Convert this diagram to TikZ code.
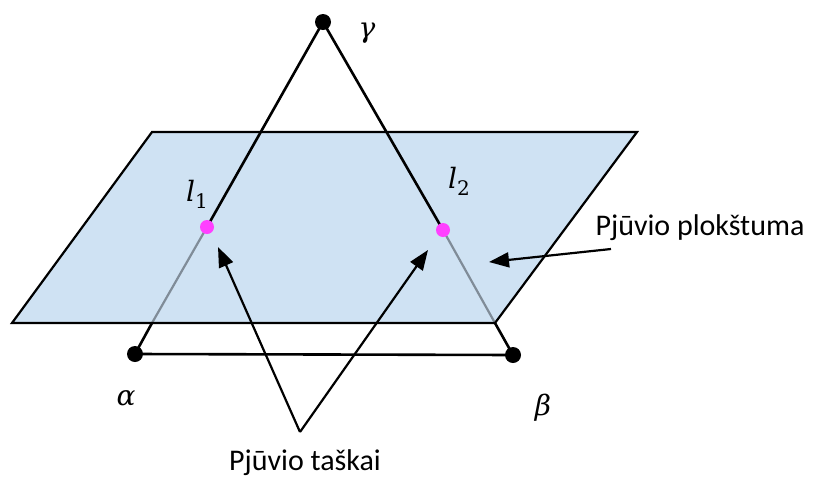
\documentclass[tikz,border=0pt]{standalone}
\usepackage{fontspec}
\setmainfont{Carlito}
\newfontfamily\mfont{DejaVu Serif}
\usetikzlibrary{arrows.meta}
\definecolor{planefill}{RGB}{207,226,243}
\definecolor{hiddenline}{RGB}{128,140,152}
\definecolor{cutdot}{RGB}{255,64,255}
\newcommand{\subl}[1]{{\itshape l}\raisebox{-7pt}{\fontsize{20}{21}\selectfont #1}}
\begin{document}
\begin{tikzpicture}[x=1pt,y=-1pt,
  edge/.style={line width=2.6pt,black},
  hid/.style={line width=2.2pt,hiddenline},
  vdot/.style={circle,fill=black,inner sep=0pt,minimum size=16pt},
  cdot/.style={circle,fill=cutdot,inner sep=0pt,minimum size=14pt},
  arr/.style={line width=2.2pt,-{Triangle[length=20pt,width=15pt]}},
  lbl/.style={font=\fontsize{30}{34}\selectfont},
  mlbl/.style={font=\mfont\fontsize{28}{32}\selectfont\itshape,inner sep=0pt}]
\useasboundingbox (0,0) rectangle (815,480);
% plane
\coordinate (Q1) at (152,132);
\coordinate (Q2) at (637,132);
\coordinate (Q3) at (495,323);
\coordinate (Q4) at (12,323);
\fill[planefill] (Q1) -- (Q2) -- (Q3) -- (Q4) -- cycle;
% points
\coordinate (G) at (323,22);
\coordinate (A) at (135,354);
\coordinate (B) at (513,355);
\coordinate (L1) at (207,227);
\coordinate (L2) at (443,230);
\coordinate (P1) at (152,323);
% lines
\draw[edge] (G) -- (L1);
\draw[edge] (G) -- (L2);
\draw[hid] (L1) -- (P1);
\draw[hid] (L2) -- (Q3);
\draw[line width=2.2pt] (Q1) -- (Q2) -- (Q3) -- (Q4) -- cycle;
\draw[edge] (P1) -- (A);
\draw[edge] (Q3) -- (B);
\draw[edge] (A) -- (B);
% dots
\node[vdot] (nG) at (G) {};
\node[vdot] (nA) at (A) {};
\node[vdot] (nB) at (B) {};
\node[cdot] (nL1) at (L1) {};
\node[cdot] (nL2) at (L2) {};
% labels
\node[mlbl] (tg) at (367,33) {γ};
\node[mlbl] (ta) at (126,398) {α};
\node[mlbl] (tb) at (543,408) {β};
\node[mlbl,font=\mfont\fontsize{28}{32}\selectfont] (tl1) at (197,194) {\subl{1}};
\node[mlbl,font=\mfont\fontsize{28}{32}\selectfont] (tl2) at (459,181) {\subl{2}};
% arrows
\coordinate (V) at (300,432);
\coordinate (T1) at (218,247);
\coordinate (T2) at (428,250);
\draw[arr] (V) -- (T1);
\draw[arr] (V) -- (T2);
\node[lbl] (tk) at (305,463) {Pjūvio taškai};
\node[lbl] (pl) at (700,228) {Pjūvio plokštuma};
\coordinate (S) at (611,249);
\coordinate (T3) at (489,262);
\draw[arr] (S) -- (T3);
\end{tikzpicture}
\end{document}
